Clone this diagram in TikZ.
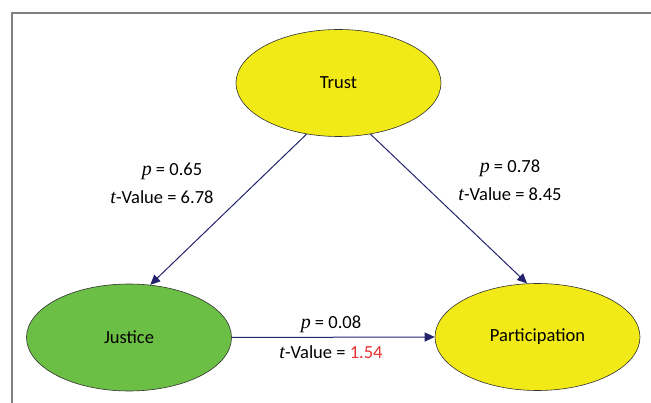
\documentclass[tikz,border=0pt]{standalone}
\usepackage{fontspec}
\setmainfont{Carlito}
\newfontfamily\serifit{Liberation Serif}
\usetikzlibrary{arrows.meta,shapes.geometric}
\definecolor{yel}{HTML}{F2EA16}
\definecolor{grn}{HTML}{6CBF45}
\definecolor{navy}{HTML}{23236E}
\definecolor{redv}{HTML}{E53232}
\newcommand{\vp}{{\serifit\itshape\fontsize{20}{22}\selectfont p}}
\newcommand{\vt}{{\serifit\itshape\fontsize{20}{22}\selectfont t}}
\tikzset{
  latent/.style={ellipse, draw=black!80, line width=0.6pt, inner sep=0pt, minimum width=205pt, minimum height=107pt, font=\fontsize{18.5}{21}\selectfont},
  pathar/.style={draw=navy, line width=1pt, -{Triangle[length=10pt,width=9pt]}},
  lbl/.style={font=\fontsize{18.5}{21}\selectfont, inner sep=0pt, anchor=center},
  frame/.style={draw=black!50, line width=1.8pt}
}
\begin{document}
\begin{tikzpicture}[x=1pt,y=-1pt]
\useasboundingbox (0,0) rectangle (651,403);
\coordinate (fa) at (12,410);
\coordinate (fb) at (12,13);
\coordinate (fc) at (660,13);
\draw[frame] (fa) -- (fb) -- (fc);
\node[latent, fill=yel] (trust) at (338.5,83) {Trust};
\node[latent, fill=grn] (justice) at (129,337.5) {Justice};
\node[latent, fill=yel] (part) at (537.5,337) {Participation};
\draw[pathar] (trust.238) -- (justice.68);
\draw[pathar] (trust.302) -- (part.101);
\draw[pathar] (justice.east) -- (part.west);
\node[lbl] (l1) at (172,171) {\vp{} = 0.65};
\node[lbl] (l2) at (162,197) {\vt-Value = 6.78};
\node[lbl] (l3) at (510,168) {\vp{} = 0.78};
\node[lbl] (l4) at (510,194) {\vt-Value = 8.45};
\node[lbl] (l5) at (331,324) {\vp{} = 0.08};
\node[lbl] (l6) at (331,352) {\vt-Value = \textcolor{redv}{1.54}};
\end{tikzpicture}
\end{document}
